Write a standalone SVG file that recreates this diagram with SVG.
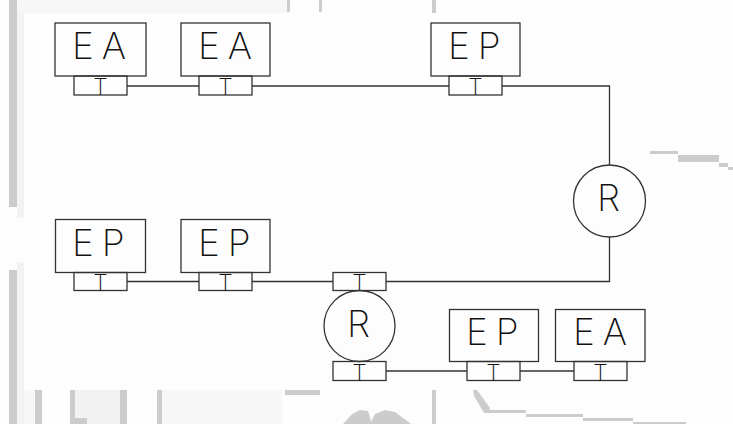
<svg xmlns="http://www.w3.org/2000/svg" width="733" height="424" viewBox="0 0 733 424">
<style>
.box{fill:none;stroke:#333;stroke-width:1.3}
.wire{fill:none;stroke:#333;stroke-width:1.3}
.lbl{font-family:Inter,"Liberation Sans",sans-serif;font-weight:200;font-size:37px;fill:#111;letter-spacing:8px}
.r{font-family:Inter,"Liberation Sans",sans-serif;font-weight:200;font-size:37px;fill:#111}
.t{font-family:Inter,"Liberation Sans",sans-serif;font-weight:200;font-size:23px;fill:#111;text-anchor:middle}
.bg1{fill:#cccccc}
.bg2{fill:#f2f2f2}
.bg3{fill:#f7f7f7}
</style>
<rect x="0" y="0" width="733" height="424" fill="#fdfdfd"/>
<g id="background-marks">
<rect class="bg3" x="17" y="0" width="273" height="13"/>
<rect class="bg1" x="9" y="0" width="8" height="207"/>
<rect class="bg2" x="17" y="13" width="7" height="205"/>
<rect class="bg1" x="9" y="270" width="8" height="154"/>
<rect class="bg2" x="17" y="262" width="7" height="162"/>
<rect class="bg3" x="24" y="390" width="11" height="34"/>
<rect class="bg1" x="35" y="390" width="7" height="34"/>
<rect class="bg1" x="287" y="0" width="3" height="12"/>
<rect class="bg1" x="319" y="0" width="3" height="12"/>
<rect class="bg1" x="432" y="0" width="4" height="13"/>
<rect class="bg1" x="650" y="151" width="28" height="3"/>
<rect class="bg1" x="678" y="155" width="41" height="7"/>
<rect class="bg1" x="719" y="163" width="9" height="4"/>
<rect class="bg1" x="728" y="167" width="5" height="3"/>
<rect class="bg2" x="75" y="390" width="45" height="34"/>
<rect class="bg1" x="70" y="390" width="5" height="34"/>
<rect class="bg1" x="120" y="390" width="7" height="34"/>
<rect class="bg1" x="75" y="418" width="12" height="6"/>
<rect class="bg1" x="157" y="390" width="5" height="34"/>
<rect class="bg3" x="162" y="390" width="120" height="34"/>
<rect class="bg1" x="285" y="390" width="35" height="5"/>
<polygon class="bg1" points="343,424 352,414 360,410 368,411 372,424"/>
<rect class="bg1" x="432" y="390" width="4" height="34"/>
<polygon class="bg1" points="370,424 375,414 385,410 395,412 411,424"/>
<polygon class="bg1" points="473,390 477,390 490,408 489,413 484,413 474,396"/>
<rect class="bg1" x="489" y="410" width="37" height="3"/>
<rect class="bg1" x="526" y="414" width="57" height="3"/>
<rect class="bg1" x="583" y="418" width="50" height="3"/>
<rect class="bg1" x="633" y="422" width="53" height="2"/>
</g>
<g id="connectors">
<polyline class="wire" points="127,86 199,86"/>
<polyline class="wire" points="252,86 449,86"/>
<polyline class="wire" points="502,86 609.5,86 609.5,165"/>
<polyline class="wire" points="609.5,237 609.5,281.5 386,281.5"/>
<polyline class="wire" points="127,281.5 199,281.5"/>
<polyline class="wire" points="252,281.5 333,281.5"/>
<polyline class="wire" points="386,371 467,371"/>
<polyline class="wire" points="520,371 574,371"/>
</g>
<g id="node-ea1">
<rect class="box" x="55" y="23" width="91" height="53"/>
<text class="lbl" x="72" y="59">EA</text>
<rect class="box" x="74" y="76" width="53" height="19"/>
<text class="t" x="100.5" y="95">T</text>
</g>
<g id="node-ea2">
<rect class="box" x="181" y="23" width="89" height="53"/>
<text class="lbl" x="198" y="59">EA</text>
<rect class="box" x="199" y="76" width="53" height="19"/>
<text class="t" x="225.5" y="95">T</text>
</g>
<g id="node-ep1">
<rect class="box" x="431" y="23" width="89" height="53"/>
<text class="lbl" x="448" y="59">EP</text>
<rect class="box" x="449" y="76" width="53" height="19"/>
<text class="t" x="475.5" y="95">T</text>
</g>
<g id="node-r1">
<circle class="box" cx="609.5" cy="201" r="36"/>
<text class="r" x="597" y="211">R</text>
</g>
<g id="node-ep2">
<rect class="box" x="55.5" y="219.5" width="90" height="53"/>
<text class="lbl" x="72" y="256">EP</text>
<rect class="box" x="74" y="272.5" width="53" height="18"/>
<text class="t" x="100.5" y="290.5">T</text>
</g>
<g id="node-ep3">
<rect class="box" x="181" y="219.5" width="89" height="53"/>
<text class="lbl" x="198" y="256">EP</text>
<rect class="box" x="199" y="272.5" width="53" height="18"/>
<text class="t" x="225.5" y="290.5">T</text>
</g>
<g id="node-r2">
<rect class="box" x="333" y="272.5" width="53" height="18"/>
<text class="t" x="359.5" y="290.5">T</text>
<circle class="box" cx="359.5" cy="326" r="35.5"/>
<text class="r" x="347" y="337">R</text>
<rect class="box" x="333" y="361.5" width="53" height="19"/>
<text class="t" x="359.5" y="380.5">T</text>
</g>
<g id="node-ep4">
<rect class="box" x="449.5" y="309.5" width="89" height="52"/>
<text class="lbl" x="466" y="345">EP</text>
<rect class="box" x="467" y="361.5" width="53" height="19"/>
<text class="t" x="493.5" y="380.5">T</text>
</g>
<g id="node-ea3">
<rect class="box" x="555.5" y="309.5" width="89.5" height="52"/>
<text class="lbl" x="573" y="345">EA</text>
<rect class="box" x="574" y="361.5" width="53" height="19"/>
<text class="t" x="600.5" y="380.5">T</text>
</g>
</svg>
